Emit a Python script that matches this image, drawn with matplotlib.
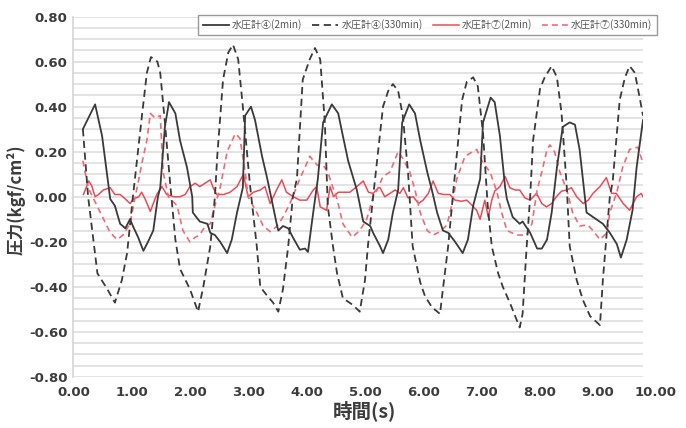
import matplotlib
matplotlib.use("Agg")
import matplotlib.pyplot as plt
import matplotlib.transforms as mtransforms

plt.rcParams['font.family'] = ['Noto Sans CJK JP', 'DejaVu Sans']

# ---- data (time in s, pressure) ----
t_p4_2 = [0.15, 0.36, 0.48, 0.62, 0.70, 0.79, 0.88, 0.96, 1.01, 1.10, 1.19, 1.27, 1.36, 1.44, 1.48, 1.56, 1.63,
          1.74, 1.82, 1.94, 2.03, 2.04, 2.16, 2.29, 2.34, 2.42, 2.51, 2.63, 2.71, 2.80, 2.90, 2.94, 3.04, 3.11,
          3.23, 3.32, 3.49, 3.51, 3.59, 3.68, 3.76, 3.88, 3.97, 4.02, 4.11, 4.19, 4.28, 4.43, 4.54, 4.62, 4.71,
          4.86, 4.97, 5.09, 5.14, 5.26, 5.31, 5.40, 5.48, 5.57, 5.64, 5.76, 5.86, 5.95, 6.07, 6.15, 6.24, 6.34,
          6.43, 6.55, 6.68, 6.77, 6.86, 6.98, 7.03, 7.16, 7.23, 7.32, 7.41, 7.44, 7.54, 7.66, 7.71, 7.84, 7.96,
          8.04, 8.13, 8.21, 8.30, 8.40, 8.52, 8.61, 8.69, 8.81, 8.92, 9.09, 9.21, 9.33, 9.40, 9.50, 9.60, 9.67, 9.78]
v_p4_2 = [0.30, 0.41, 0.27, -0.01, -0.04, -0.12, -0.14, -0.10, -0.13, -0.18, -0.24, -0.20, -0.15, 0.00, 0.04, 0.31, 0.42,
          0.37, 0.25, 0.13, 0.00, -0.07, -0.11, -0.12, -0.16, -0.17, -0.20, -0.25, -0.19, -0.07, 0.04, 0.36, 0.40, 0.34,
          0.18, 0.08, -0.13, -0.15, -0.13, -0.14, -0.18, -0.235, -0.23, -0.245, -0.07, 0.08, 0.33, 0.41, 0.37, 0.27, 0.16,
          0.03, -0.11, -0.13, -0.16, -0.22, -0.25, -0.19, -0.07, 0.03, 0.33, 0.41, 0.37, 0.25, 0.11, 0.03, -0.07, -0.15,
          -0.16, -0.20, -0.25, -0.19, -0.04, 0.08, 0.33, 0.44, 0.42, 0.27, 0.04, -0.01, -0.09, -0.12, -0.11, -0.16, -0.23,
          -0.23, -0.19, -0.07, 0.13, 0.31, 0.33, 0.32, 0.21, -0.07, -0.09, -0.12, -0.16, -0.21, -0.27, -0.19, -0.06, 0.13, 0.34]

t_p4_330 = [0.15, 0.24, 0.40, 0.57, 0.70, 0.82, 0.91, 1.01, 1.17, 1.25, 1.32, 1.43, 1.48, 1.56, 1.65, 1.74, 1.82,
            1.99, 2.13, 2.22, 2.34, 2.42, 2.46, 2.56, 2.65, 2.73, 2.82, 2.90, 3.02, 3.14, 3.20, 3.32, 3.42, 3.51,
            3.59, 3.68, 3.76, 3.83, 3.93, 4.05, 4.14, 4.23, 4.31, 4.36, 4.45, 4.52, 4.62, 4.79, 4.91, 5.00, 5.05,
            5.14, 5.31, 5.40, 5.48, 5.57, 5.65, 5.74, 5.82, 5.95, 6.03, 6.15, 6.29, 6.34, 6.43, 6.51, 6.55, 6.67,
            6.75, 6.86, 6.94, 7.03, 7.11, 7.18, 7.29, 7.37, 7.49, 7.66, 7.71, 7.78, 7.84, 7.89, 8.01, 8.09, 8.21,
            8.30, 8.38, 8.47, 8.52, 8.64, 8.75, 8.87, 9.04, 9.09, 9.16, 9.21, 9.26, 9.38, 9.47, 9.55, 9.64, 9.73, 9.78]
v_p4_330 = [0.30, 0.00, -0.34, -0.41, -0.47, -0.37, -0.25, 0.00, 0.37, 0.55, 0.62, 0.60, 0.55, 0.33, 0.06, -0.19, -0.32,
            -0.41, -0.51, -0.40, -0.22, 0.00, 0.18, 0.52, 0.64, 0.675, 0.61, 0.40, 0.06, -0.22, -0.40, -0.44, -0.47, -0.51,
            -0.41, -0.22, 0.00, 0.08, 0.52, 0.61, 0.66, 0.61, 0.33, -0.04, -0.22, -0.34, -0.45, -0.48, -0.51, -0.37, -0.22,
            0.00, 0.40, 0.47, 0.50, 0.47, 0.36, 0.11, -0.22, -0.38, -0.44, -0.49, -0.52, -0.41, -0.22, 0.00, 0.11, 0.43,
            0.51, 0.53, 0.49, 0.28, -0.04, -0.22, -0.34, -0.40, -0.47, -0.58, -0.52, -0.22, 0.00, 0.25, 0.48, 0.53, 0.58,
            0.53, 0.37, 0.04, -0.22, -0.37, -0.46, -0.53, -0.57, -0.37, -0.15, 0.00, 0.07, 0.43, 0.53, 0.58, 0.55, 0.43, 0.36]

t_p7_2 = [0.16, 0.25, 0.30, 0.36, 0.42, 0.50, 0.62, 0.70, 0.79, 0.88, 0.96, 1.02, 1.11, 1.16, 1.22, 1.31, 1.36, 1.42,
          1.51, 1.59, 1.71, 1.82, 1.91, 1.99, 2.08, 2.16, 2.25, 2.34, 2.39, 2.45, 2.57, 2.68, 2.80, 2.91, 2.99, 3.08,
          3.20, 3.28, 3.37, 3.48, 3.57, 3.65, 3.77, 3.88, 4.00, 4.11, 4.17, 4.23, 4.34, 4.40, 4.46, 4.54, 4.63, 4.74,
          4.86, 4.97, 5.06, 5.14, 5.23, 5.26, 5.34, 5.43, 5.52, 5.60, 5.66, 5.74, 5.83, 5.92, 6.00, 6.09, 6.17, 6.26,
          6.35, 6.46, 6.55, 6.66, 6.75, 6.83, 6.92, 6.98, 7.06, 7.12, 7.18, 7.23, 7.32, 7.41, 7.49, 7.58, 7.66, 7.75,
          7.84, 7.95, 8.04, 8.12, 8.21, 8.29, 8.38, 8.47, 8.55, 8.64, 8.75, 8.84, 8.92, 9.04, 9.15, 9.24, 9.32, 9.44,
          9.55, 9.67, 9.75, 9.78]
v_p7_2 = [0.01, 0.07, 0.05, 0.00, 0.01, 0.03, 0.04, 0.01, 0.01, -0.01, -0.03, -0.01, 0.00, 0.02, -0.01, -0.065, -0.03, 0.01,
          0.045, 0.01, 0.00, 0.00, 0.01, 0.045, 0.06, 0.045, 0.06, 0.075, 0.04, 0.01, 0.01, 0.02, 0.045, 0.10, 0.00, 0.02,
          0.03, 0.045, -0.03, 0.03, 0.075, 0.02, 0.00, -0.015, -0.015, 0.03, 0.045, -0.045, -0.06, 0.045, 0.00, 0.02, 0.02, 0.02,
          0.045, 0.07, 0.02, 0.015, 0.04, 0.04, 0.00, 0.015, 0.03, 0.015, 0.04, -0.005, 0.00, -0.03, -0.015, 0.015, 0.07, 0.015,
          0.01, 0.01, -0.015, -0.02, -0.015, -0.035, -0.06, -0.10, -0.015, -0.09, -0.015, 0.025, 0.045, 0.09, 0.04, 0.03, 0.03, -0.005,
          -0.015, 0.015, -0.03, -0.045, -0.03, 0.00, 0.025, 0.03, 0.04, 0.00, -0.03, -0.015, 0.015, 0.045, 0.085, 0.015, 0.015, -0.03,
          -0.06, 0.00, 0.015, 0.00]

t_p7_330 = [0.15, 0.24, 0.45, 0.62, 0.74, 0.84, 0.96, 1.05, 1.19, 1.25, 1.31, 1.39, 1.48, 1.53, 1.62, 1.77, 1.87,
            1.99, 2.08, 2.16, 2.25, 2.34, 2.42, 2.51, 2.63, 2.77, 2.85, 2.94, 2.99, 3.14, 3.25, 3.37, 3.49, 3.59,
            3.71, 3.88, 3.97, 4.05, 4.18, 4.28, 4.36, 4.45, 4.52, 4.62, 4.78, 4.91, 5.03, 5.14, 5.21, 5.31, 5.43,
            5.57, 5.65, 5.77, 5.86, 5.95, 6.07, 6.17, 6.29, 6.41, 6.49, 6.58, 6.72, 6.92, 7.03, 7.15, 7.27, 7.35,
            7.44, 7.61, 7.78, 7.87, 7.96, 8.04, 8.13, 8.18, 8.26, 8.35, 8.47, 8.57, 8.69, 8.83, 8.92, 9.04, 9.16,
            9.21, 9.33, 9.43, 9.55, 9.69, 9.78]
v_p7_330 = [0.16, 0.04, -0.07, -0.16, -0.19, -0.17, -0.12, 0.00, 0.18, 0.25, 0.37, 0.35, 0.36, 0.11, 0.00, -0.04, -0.15,
            -0.20, -0.18, -0.17, -0.13, -0.12, -0.04, 0.04, 0.20, 0.28, 0.26, 0.11, 0.00, -0.07, -0.13, -0.155, -0.13, -0.09,
            -0.03, 0.08, 0.13, 0.18, 0.14, 0.14, 0.11, 0.04, -0.01, -0.12, -0.18, -0.15, -0.10, 0.00, 0.03, 0.09, 0.11,
            0.20, 0.17, 0.11, 0.03, -0.07, -0.15, -0.17, -0.155, -0.125, -0.04, 0.08, 0.18, 0.21, 0.15, 0.11, 0.02, -0.07,
            -0.15, -0.17, -0.17, -0.12, 0.03, 0.11, 0.21, 0.23, 0.20, 0.11, 0.03, -0.07, -0.13, -0.125, -0.15, -0.19, -0.16,
            -0.07, 0.02, 0.13, 0.21, 0.22, 0.15]

labels = ['水圧計④(2min)', '水圧計④(330min)', '水圧計⑦(2min)', '水圧計⑦(330min)']
y_ticks = [0.80, 0.60, 0.40, 0.20, 0.00, -0.20, -0.40, -0.60, -0.80]
x_ticks = [0, 1, 2, 3, 4, 5, 6, 7, 8, 9, 10]
x_ticklabels = ['0.00', '1.00', '2.00', '3.00', '4.00', '5.00', '6.00', '7.00', '8.00', '9.00', '10.00']

# ---- figure ----
W, H = 686, 428
fig = plt.figure(figsize=(W / 100, H / 100), dpi=100)
ax = fig.add_axes([73 / W, 1 - 377 / H, (643 - 73) / W, (377 - 16.5) / H])

ax.set_xlim(-0.02, 9.78)
ax.set_ylim(-0.80, 0.80)

# grid every 0.05
gy = [-0.80 + 0.05 * i for i in range(33)]
for g in gy:
    ax.axhline(g, color='#e0e0e0', lw=1.3, zorder=0)

tc = '#3c3c3c'
ax.plot(t_p4_2, v_p4_2, color='#3a3a3a', lw=1.3, label=labels[0], zorder=3)
ax.plot(t_p4_330, v_p4_330, color='#3a3a3a', lw=1.3, ls=(0, (4, 2.5)), label=labels[1], zorder=3)
ax.plot(t_p7_2, v_p7_2, color='#ea4b58', lw=1.1, label=labels[2], zorder=2)
ax.plot(t_p7_330, v_p7_330, color='#f06a76', lw=1.2, ls=(0, (3.5, 2.5)), label=labels[3], zorder=2)

for s in ['top', 'right', 'bottom']:
    ax.spines[s].set_visible(False)
ax.spines['left'].set_color('#d4d4d4')
ax.spines['left'].set_linewidth(1.2)

ax.set_yticks(y_ticks)
ax.set_yticklabels(['%.2f' % v for v in y_ticks], fontsize=9.5, fontweight='bold', color=tc,
                   family=['DejaVu Sans'])
ax.tick_params(axis='y', length=0, pad=4)

ax.set_xticks([])
trans = mtransforms.blended_transform_factory(ax.transData, fig.transFigure)
for xv, lab in zip(x_ticks, x_ticklabels):
    ax.text(xv, 1 - 392 / H, lab, transform=trans, ha='center', va='center', fontsize=9.5,
            fontweight='bold', color=tc, family=['DejaVu Sans'], clip_on=False)

fig.text(364 / W, 1 - 411 / H, '時間(s)', ha='center', va='center', fontsize=14, fontweight='bold', color=tc)
fig.text(16 / W, 1 - 200 / H, '圧力(kgf/cm²)', ha='center', va='center', rotation=90, fontsize=12,
         fontweight='bold', color=tc)

leg = fig.legend(loc='center', bbox_to_anchor=(427.5 / W, 1 - 25 / H), ncol=4, fontsize=7.2,
                 frameon=True, fancybox=False, handlelength=2.6, handletextpad=0.3, columnspacing=1.0,
                 borderpad=0.5, labelcolor='#555555')
leg.get_frame().set_edgecolor('#808080')
leg.get_frame().set_linewidth(1.0)

fig.savefig('out.png', dpi=100)
